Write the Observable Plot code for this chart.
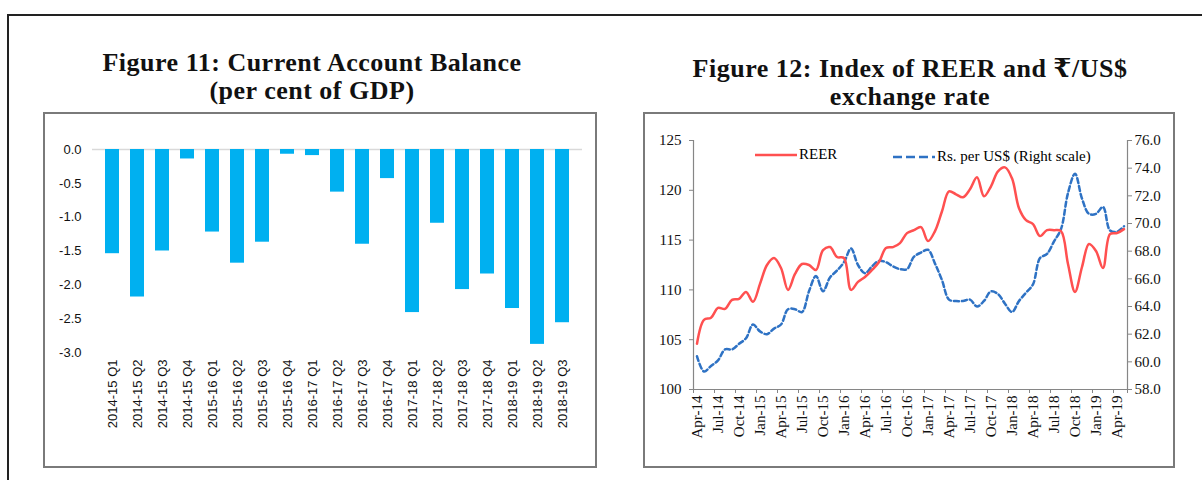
<!DOCTYPE html>
<html><head><meta charset="utf-8">
<script src="https://cdn.jsdelivr.net/npm/d3@7"></script>
<script src="https://cdn.jsdelivr.net/npm/@observablehq/plot@0.6"></script>
<style>
body{margin:0;background:#fff;width:1202px;height:480px;overflow:hidden;position:relative;}
#frame{position:absolute;left:7px;top:14px;width:1300px;height:600px;border-top:2px solid #222;border-left:2px solid #222;}
.title{position:absolute;font-family:"Liberation Serif","DejaVu Serif",serif;font-weight:bold;font-size:26px;letter-spacing:0.5px;text-align:center;line-height:29px;height:29px;color:#111;white-space:nowrap;}
.box{position:absolute;border:2px solid #7a7a7a;background:#fff;}
.box svg{position:absolute;left:0;top:0;}
.legend{position:absolute;font-family:"Liberation Serif",serif;font-size:15px;color:#000;display:flex;align-items:center;white-space:nowrap;}
</style></head><body>
<div id="frame"></div>
<div class="title" style="left:62px;top:48px;width:500px;">Figure 11: Current Account Balance</div>
<div class="title" style="left:62px;top:76px;width:500px;">(per cent of GDP)</div>
<div class="title" style="left:660px;top:54px;width:500px;">Figure 12: Index of REER and ₹/US$</div>
<div class="title" style="left:660px;top:82px;width:500px;">exchange rate</div>
<div class="box" id="leftBox" style="left:43px;top:112px;width:550px;height:352px;"></div>
<div class="box" id="rightBox" style="left:643px;top:112px;width:528px;height:352px;"></div>
<div class="legend" style="left:755px;top:146px;"><svg width="42" height="8"><line x1="0" y1="4" x2="42" y2="4" stroke="#FF5050" stroke-width="2.5"/></svg><span style="margin-left:2px">REER</span></div>
<div class="legend" style="left:893px;top:148px;"><svg width="42" height="8"><line x1="0" y1="4" x2="42" y2="4" stroke="#2E72C4" stroke-width="2.5" stroke-dasharray="9,4"/></svg><span style="margin-left:2px">Rs. per US$ (Right scale)</span></div>
<script>
// ---- Figure 11 data ----
const quarters = ["2014-15 Q1","2014-15 Q2","2014-15 Q3","2014-15 Q4","2015-16 Q1","2015-16 Q2","2015-16 Q3","2015-16 Q4","2016-17 Q1","2016-17 Q2","2016-17 Q3","2016-17 Q4","2017-18 Q1","2017-18 Q2","2017-18 Q3","2017-18 Q4","2018-19 Q1","2018-19 Q2","2018-19 Q3"];
const cab = [-1.54,-2.18,-1.50,-0.14,-1.22,-1.68,-1.37,-0.07,-0.09,-0.63,-1.40,-0.43,-2.41,-1.09,-2.07,-1.84,-2.35,-2.88,-2.56];
const cabTicks = [0,-0.5,-1,-1.5,-2,-2.5,-3];

// ---- Figure 12 data ----
const months = ["Apr-14","May-14","Jun-14","Jul-14","Aug-14","Sep-14","Oct-14","Nov-14","Dec-14","Jan-15","Feb-15","Mar-15",
"Apr-15","May-15","Jun-15","Jul-15","Aug-15","Sep-15","Oct-15","Nov-15","Dec-15","Jan-16","Feb-16","Mar-16",
"Apr-16","May-16","Jun-16","Jul-16","Aug-16","Sep-16","Oct-16","Nov-16","Dec-16","Jan-17","Feb-17","Mar-17",
"Apr-17","May-17","Jun-17","Jul-17","Aug-17","Sep-17","Oct-17","Nov-17","Dec-17","Jan-18","Feb-18","Mar-18",
"Apr-18","May-18","Jun-18","Jul-18","Aug-18","Sep-18","Oct-18","Nov-18","Dec-18","Jan-19","Feb-19","Mar-19",
"Apr-19","May-19"];
const reer = [104.6,107.0,107.2,108.2,108.1,109.0,109.1,109.8,108.8,110.6,112.5,113.2,
112.2,110.0,111.6,112.6,112.5,112.0,114.0,114.3,113.3,113.2,110.0,110.8,
111.3,112.0,112.8,114.2,114.3,114.7,115.7,116.0,116.3,114.9,115.9,117.9,
119.9,119.6,119.3,120.1,121.3,119.4,120.4,121.9,122.3,121.2,118.2,117.0,
116.6,115.4,116.0,116.0,115.9,112.6,109.8,112.3,114.6,113.9,112.2,115.6,
115.7,116.1];
const rsPerUsd = [60.4,59.3,59.7,60.1,60.9,60.9,61.3,61.7,62.7,62.2,62.0,62.4,
62.7,63.8,63.8,63.6,65.1,66.2,65.1,66.1,66.6,67.2,68.2,67.0,
66.4,66.9,67.3,67.2,66.9,66.7,66.7,67.6,67.9,68.1,67.1,65.9,
64.5,64.4,64.4,64.5,64.0,64.4,65.1,64.9,64.2,63.6,64.4,65.0,
65.6,67.5,67.8,68.7,69.6,72.2,73.6,71.8,70.7,70.7,71.2,69.5,
69.4,69.8];
const leftTicks = [100,105,110,115,120,125];
const rightTicks = [58,60,62,64,66,68,70,72,74,76];
const dateLabelIdx = [0,3,6,9,12,15,18,21,24,27,30,33,36,39,42,45,48,51,54,57,60];

// ---- Figure 11 ----
const cabData = quarters.map((q, i) => ({q, v: cab[i]}));
const leftPlot = Plot.plot({
  width: 550, height: 352,
  marginLeft: 47, marginRight: 13, marginTop: 35, marginBottom: 114,
  style: {fontFamily: '"Liberation Sans", Arial, sans-serif', fontSize: "13px", color: "#111", background: "transparent"},
  x: {domain: quarters, paddingInner: 0.46, paddingOuter: 0.23, label: null},
  y: {domain: [-3, 0], label: null},
  marks: [
    Plot.ruleY([0], {stroke: "#d9d9d9", strokeWidth: 1.5}),
    Plot.barY(cabData, {x: "q", y: "v", fill: "#00B0F0"}),
    Plot.axisY({ticks: cabTicks, tickFormat: d => d.toFixed(1), tickSize: 0, tickPadding: 11, label: null}),
    Plot.axisX({tickRotate: -90, tickSize: 0, tickPadding: 7, label: null, style: {letterSpacing: "0.5px"}})
  ]
});
document.getElementById("leftBox").appendChild(leftPlot);

// ---- Figure 12 ----
// right-scale values mapped onto the left scale (58..76 <-> 100..125)
const toLeft = r => 100 + (r - 58) * 25 / 18;
const fromLeft = l => 58 + (l - 100) * 18 / 25;
const reerData = reer.map((v, i) => ({i, v}));
const rsData = rsPerUsd.map((v, i) => ({i, v: toLeft(v)}));
const boundaries = d3.range(-0.5, 61, 3).concat([61.5]);
const axisGrey = "#868686";
const rightPlot = Plot.plot({
  width: 528, height: 352,
  marginLeft: 48, marginRight: 46, marginTop: 26, marginBottom: 77,
  style: {fontFamily: '"Liberation Serif", "Times New Roman", serif', fontSize: "15px", color: "#111", background: "transparent"},
  x: {type: "linear", domain: [-0.5, 61.5], label: null},
  y: {domain: [100, 125], label: null},
  marks: [
    Plot.ruleX([-0.5], {stroke: axisGrey, strokeWidth: 1.2}),
    Plot.ruleX([61.5], {stroke: axisGrey, strokeWidth: 1.2}),
    Plot.ruleY([100], {stroke: axisGrey, strokeWidth: 1.2}),
    Plot.line(rsData, {x: "i", y: "v", stroke: "#2E72C4", strokeWidth: 2.5, strokeDasharray: "5,3", curve: "catmull-rom"}),
    Plot.line(reerData, {x: "i", y: "v", stroke: "#FF5050", strokeWidth: 2.5, curve: "catmull-rom"}),
    Plot.axisY({anchor: "left", ticks: leftTicks, tickSize: 4, tickPadding: 8, stroke: axisGrey, label: null}),
    Plot.axisY({anchor: "right", ticks: rightTicks.map(toLeft), tickFormat: d => fromLeft(d).toFixed(1), tickSize: 4, tickPadding: 3, stroke: axisGrey, label: null}),
    Plot.axisX({ticks: boundaries, tickSize: 4, stroke: axisGrey, tickFormat: () => "", label: null}),
    Plot.axisX({ticks: dateLabelIdx, tickSize: 0, tickPadding: 6, tickRotate: -90, tickFormat: i => months[i], label: null})
  ]
});
document.getElementById("rightBox").appendChild(rightPlot);
</script>
</body></html>
